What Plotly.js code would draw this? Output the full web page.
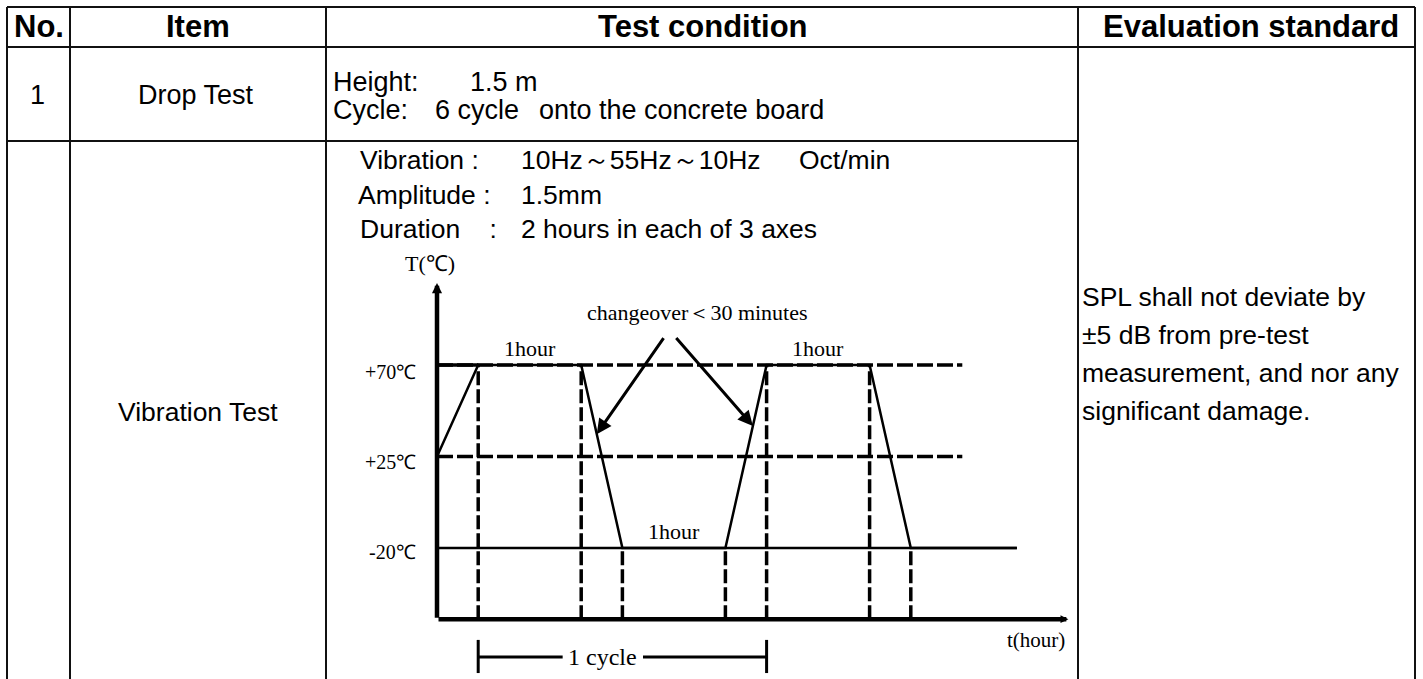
<!DOCTYPE html>
<html><head><meta charset="utf-8">
<script src="https://cdn.plot.ly/plotly-3.0.1.min.js"></script>
<style>html,body{margin:0;padding:0;background:#fff;overflow:hidden}</style>
</head><body><div id="chart" style="width:1423px;height:679px"></div>
<script>
// ---------------- data ----------------
const headers = ['No.', 'Item', 'Test condition', 'Evaluation standard'];
const itemNos = ['1', ''];
const itemNames = ['Drop Test', 'Vibration Test'];
const dropLabels = ['Height:', 'Cycle:'];
const dropValues = ['1.5 m', '6 cycle'];
const dropNote = 'onto the concrete board';
const vibLabels = ['Vibration :', 'Amplitude :', 'Duration\u00a0\u00a0\u00a0\u00a0:'];
const vibValues = ['10Hz\uFF5E55Hz\uFF5E10Hz', '1.5mm', '2 hours in each of 3 axes'];
const vibUnit = 'Oct/min';
const evalLines = ['SPL shall not deviate by', '\u00b15 dB from pre-test', 'measurement, and nor any', 'significant damage.'];

// temperature cycle profile (time in hours, temperature in °C)
const profileTime = [0, 0.4, 1.4, 1.8, 2.8, 3.2, 4.2, 4.6, 5.63];
const profileTemp = [25, 70, 70, -20, -20, 70, 70, -20, -20];
const levelTemps = [70, 25, -20];
const levelLabels = ['+70\u2103', '+25\u2103', '-20\u2103'];
const levelEnds = [5.1, 5.1, 5.63];
const holdLabel = '1hour';
const cycleStart = 0.4, cycleEnd = 3.2;
const changeoverLabel = 'changeover\uFF1C30 minutes';
const axisTitleY = 'T(\u2103)', axisTitleX = 't(hour)', cycleLabel = '1 cycle';

// ---------------- layout geometry ----------------
const W = 1423, H = 679;
const tx0 = 437, pxPerHour = 103;          // diagram time scale
const ty20 = 548, pxPerDeg = 183 / 90;     // diagram temperature scale
const x2range = [(0 - tx0) / pxPerHour, (W - tx0) / pxPerHour];
const y2range = [-20 - (H - ty20) / pxPerDeg, -20 + ty20 / pxPerDeg];
const base = -55;        // temperature at time axis
const yTop = 110.3;      // top of temperature axis
const xEnd = 6.13;       // end of time axis

const sans = 'Arial, "Liberation Sans", sans-serif';
const serif = '"Liberation Serif", "Times New Roman", serif';
const ink = '#000';

// ---------------- table ----------------
const colX = [7, 70, 326, 1078, 1415];
const shapes = [];
function hline(y, x0, x1) { shapes.push({type: 'line', xref: 'x', yref: 'y', x0: x0, x1: x1, y0: y, y1: y, line: {color: '#111', width: 2}}); }
function vline(x, y0, y1) { shapes.push({type: 'line', xref: 'x', yref: 'y', x0: x, x1: x, y0: y0, y1: y1, line: {color: '#111', width: 2}}); }
hline(7, colX[0], colX[4]);
hline(47, colX[0], colX[4]);
hline(141, colX[0], colX[3]);
colX.forEach(x => vline(x, 7, H + 5));

const ann = [];
function t(text, x, y, size, anchor, bold, family) {
  ann.push({text: bold ? '<b>' + text + '</b>' : text, x: x, y: y, xref: 'x', yref: 'y',
    showarrow: false, xanchor: anchor, yanchor: 'middle',
    font: {family: family || sans, size: size, color: ink}});
}
const headX = [39, 198, 703, 1251];
headers.forEach((h, i) => t(h, headX[i], 26, 31, 'center', true));
t(itemNos[0], 37, 95, 27, 'center');
t(itemNames[0], 196, 95, 27, 'center');
t(itemNames[1], 198, 412, 26.5, 'center');
t(dropLabels[0], 331, 82, 27, 'left');
t(dropLabels[1], 331, 110, 27, 'left');
t(dropValues[0], 468, 82, 27, 'left');
t(dropValues[1], 433, 110, 27, 'left');
t(dropNote, 537, 110, 27, 'left');
const vibY = [160, 195, 229];
const vibLX = [358, 356, 358];
vibLabels.forEach((s, i) => t(s, vibLX[i], vibY[i], 26.5, 'left'));
vibValues.forEach((s, i) => t(s, 519, vibY[i], 26.5, 'left'));
t(vibUnit, 797, vibY[0], 26.5, 'left');
const evalY = [297, 335, 373, 411];
evalLines.forEach((s, i) => t(s, 1080, evalY[i], 26.5, 'left'));

// ---------------- diagram traces ----------------
const traces = [];
const dline = (x, y, width, dash) => ({x: x, y: y, xaxis: 'x2', yaxis: 'y2', mode: 'lines', hoverinfo: 'skip',
  line: {color: ink, width: width, dash: dash || 'solid'}, showlegend: false});

// dashed reference levels (+70, +25)
const refX = [], refY = [];
[0, 1].forEach(i => { refX.push(0, levelEnds[i], null); refY.push(levelTemps[i], levelTemps[i], null); });
traces.push(dline(refX, refY, 3.5, '16px,4px'));
// solid -20 level and start of +70 level
traces.push(dline([0, levelEnds[2]], [levelTemps[2], levelTemps[2]], 2.5));
traces.push(dline([0, profileTime[1]], [levelTemps[0], levelTemps[0]], 3.5));
// dashed drop lines from each profile break point to the time axis
const dropX = [], dropY = [];
for (let i = 1; i < profileTime.length - 1; i++) { dropX.push(profileTime[i], profileTime[i], null); dropY.push(base, profileTemp[i], null); }
traces.push(dline(dropX, dropY, 3.5, '14px,4px'));
// profile
traces.push(dline(profileTime, profileTemp, 2.5));
// 1 cycle bracket
const gapL = 1.22, gapR = 2.0, brY = -73.6;
traces.push(dline([cycleStart, cycleStart, null, cycleEnd, cycleEnd, null, cycleStart, gapL, null, gapR, cycleEnd],
  [-65.2, -81.5, null, -65.2, -81.5, null, brY, brY, null, brY, brY], 3));

// ---------------- diagram annotations ----------------
function d(text, x, y, size, xa, ya) {
  ann.push({text: text, x: x, y: y, xref: 'x2', yref: 'y2', showarrow: false, xanchor: xa, yanchor: ya || 'middle',
    font: {family: serif, size: size, color: ink}});
}
function arrow(x, y, ax, ay, width, size) {
  ann.push({text: '', x: x, y: y, ax: ax, ay: ay, xref: 'x2', yref: 'y2', axref: 'x2', ayref: 'y2',
    showarrow: true, arrowhead: 2, arrowsize: size, arrowwidth: width, arrowcolor: ink, standoff: 0, startstandoff: 0});
}
// axes
arrow(0, yTop, 0, base, 4.5, 0.45);
arrow(xEnd, base, 0, base, 4.5, 0.35);
d(axisTitleY, -0.07, 120, 22, 'center');
d(axisTitleX, 5.82, -65.2, 21, 'center');
const labelOffsets = [-3.5, -2.5, -2];
levelTemps.forEach((T, i) => d(levelLabels[i], -0.18, T + labelOffsets[i], 20, 'right'));
// hold labels
[[1, 2], [3, 4], [5, 6]].forEach(([a, b]) => d(holdLabel, (profileTime[a] + profileTime[b]) / 2, profileTemp[a] + 1.2, 22, 'center', 'bottom'));
// changeover pointers, tips on the two ramps
function onRamp(i, T) { return profileTime[i] + (T - profileTemp[i]) / (profileTemp[i + 1] - profileTemp[i]) * (profileTime[i + 1] - profileTime[i]); }
d(changeoverLabel, 2.53, 96, 22, 'center');
arrow(onRamp(2, 36), 36, 2.21, 84, 3, 1);
arrow(onRamp(4, 40), 40, 2.31, 84, 3, 1);
d(cycleLabel, (gapL + gapR) / 2, brY, 24, 'center');

const layout = {
  width: W, height: H, margin: {l: 0, r: 0, t: 0, b: 0, pad: 0},
  paper_bgcolor: '#fff', plot_bgcolor: 'rgba(0,0,0,0)', showlegend: false,
  xaxis: {range: [0, W], visible: false, domain: [0, 1], fixedrange: true},
  yaxis: {range: [H, 0], visible: false, domain: [0, 1], fixedrange: true},
  xaxis2: {range: x2range, visible: false, domain: [0, 1], anchor: 'y2', fixedrange: true},
  yaxis2: {range: y2range, visible: false, domain: [0, 1], anchor: 'x2', fixedrange: true},
  shapes: shapes, annotations: ann
};
traces.unshift({x: [0], y: [0], xaxis: 'x', yaxis: 'y', mode: 'markers', marker: {opacity: 0}, hoverinfo: 'skip', showlegend: false});
Plotly.newPlot('chart', traces, layout, {staticPlot: true, displayModeBar: false});
</script></body></html>
